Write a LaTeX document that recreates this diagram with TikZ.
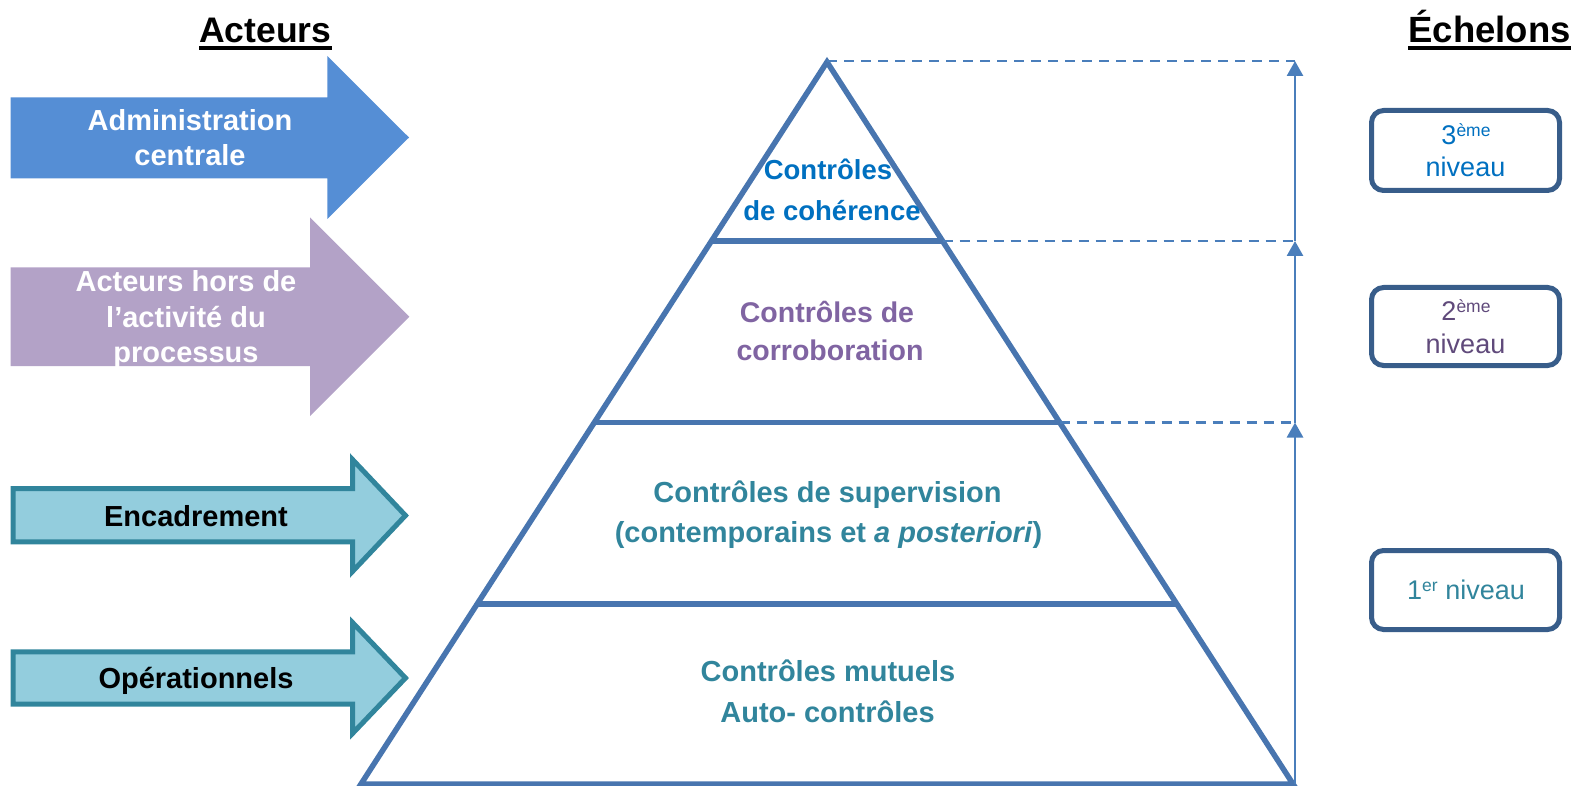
\documentclass[tikz,border=0pt]{standalone}
\usepackage{fontspec}
\setmainfont{Liberation Sans}
\usetikzlibrary{arrows.meta}

\definecolor{admblue}{RGB}{85,142,213}
\definecolor{hpurple}{RGB}{179,162,199}
\definecolor{tealfill}{RGB}{147,205,221}
\definecolor{tealline}{RGB}{49,133,156}
\definecolor{pyrline}{RGB}{72,117,175}
\definecolor{guideblue}{RGB}{74,126,187}
\definecolor{boxline}{RGB}{56,93,138}
\definecolor{txtblue}{RGB}{0,112,192}
\definecolor{txtpurple}{RGB}{128,100,162}
\definecolor{darkpurple}{RGB}{96,74,123}

% small raised ordinal suffix
\newcommand\ordsup[1]{\raisebox{8pt}{\fontsize{17.5}{17.5}\selectfont #1}}

\begin{document}
\begin{tikzpicture}[x=1pt,y=-1pt,
  title/.style={inner sep=0pt,anchor=base,font=\fontsize{35.5}{40}\selectfont\bfseries},
  arrtext/.style={inner sep=0pt,anchor=base,font=\fontsize{29}{34}\selectfont\bfseries},
  pyrtext/.style={inner sep=0pt,anchor=base,font=\fontsize{29}{34}\selectfont\bfseries},
  lvltext/.style={inner sep=0pt,anchor=base,font=\fontsize{27}{32}\selectfont},
  pyr/.style={draw=pyrline,line width=5.5pt,line join=miter},
  guide/.style={draw=guideblue,line width=2.7pt,dash pattern=on 10pt off 7pt},
  uparrow/.style={draw=guideblue,line width=2.7pt,-{Triangle[length=15pt,width=16pt]}},
  lvlbox/.style={draw=boxline,line width=5pt,rounded corners=12pt,fill=white,
    minimum width=188pt,inner sep=0pt},
  tealarrow/.style={fill=tealfill,draw=tealline,line width=5pt,line join=miter}
]
\useasboundingbox (0,0) rectangle (1574,786);

% ---- headings ----
\node[title,anchor=base west] (hact) at (199,42.5) {Acteurs};
\draw[line width=4pt] ([yshift=-5.5pt]hact.base west) -- ([yshift=-5.5pt]hact.base east);
\node[title,anchor=base east,font=\fontsize{36.5}{40}\selectfont\bfseries] (hech) at (1571,42.5) {Échelons};
\draw[line width=4pt] ([yshift=-5.5pt]hech.base west) -- ([yshift=-5.5pt]hech.base east);

% ---- actor arrows ----
\fill[admblue] (10.7,97.3) -- (327.3,97.3) -- (327.3,56) -- (409,137.5)
  -- (327.3,219) -- (327.3,178.3) -- (10.7,178.3) -- cycle;
\node[arrtext,white] (adm1) at (190,131) {Administration};
\node[arrtext,white] (adm2) at (190,165.7) {centrale};

\fill[hpurple] (10.7,267.3) -- (310,267.3) -- (310,217.5) -- (409.3,316.7)
  -- (310,416) -- (310,366) -- (10.7,366) -- cycle;
\node[arrtext,white] (hors1) at (186,291.7) {Acteurs hors de};
\node[arrtext,white] (hors2) at (186,327.7) {l’activité du};
\node[arrtext,white] (hors3) at (186,362) {processus};

\path[tealarrow] (13.2,488.5) -- (352.5,488.5) -- (352.5,459.5) -- (405.5,515.5)
  -- (352.5,571.5) -- (352.5,541.8) -- (13.2,541.8) -- cycle;
\node[arrtext,black] (enc) at (196,526) {Encadrement};

\path[tealarrow] (13.2,651.8) -- (352.5,651.8) -- (352.5,622.5) -- (405.5,678)
  -- (352.5,733.5) -- (352.5,704.2) -- (13.2,704.2) -- cycle;
\node[arrtext,black] (ope) at (196,688.3) {Opérationnels};

% ---- pyramid ----
\coordinate (AP) at (827,62);
\coordinate (BL) at (361,784);
\coordinate (BR) at (1293,784);
\coordinate (La) at (477.2,604);   \coordinate (Ra) at (1176.8,604);
\coordinate (Lb) at (594.3,422.5); \coordinate (Rb) at (1059.7,422.5);
\coordinate (Lc) at (711.5,241);   \coordinate (Rc) at (942.5,241);
\draw[pyr] (BL) -- (AP) -- (BR) -- cycle;
\draw[pyr] (La) -- (Ra);
\draw[pyr] (Lb) -- (Rb);
\draw[pyr] (Lc) -- (Rc);

\node[pyrtext,txtblue,font=\fontsize{27.5}{32}\selectfont\bfseries] (coh1) at (828,180) {Contrôles};
\node[pyrtext,txtblue,font=\fontsize{27.5}{32}\selectfont\bfseries] (coh2) at (832,221) {de cohérence};
\node[pyrtext,txtpurple,font=\fontsize{28.5}{34}\selectfont\bfseries] (cor1) at (827,323) {Contrôles de};
\node[pyrtext,txtpurple,font=\fontsize{28.5}{34}\selectfont\bfseries] (cor2) at (830,360) {corroboration};
\node[pyrtext,tealline] (sup1) at (827.5,502) {Contrôles de supervision};
\node[pyrtext,tealline] (sup2) at (828.5,542) {(contemporains et \textit{a posteriori})};
\node[pyrtext,tealline] (mut1) at (828,681) {Contrôles mutuels};
\node[pyrtext,tealline] (mut2) at (827.5,722) {Auto- contrôles};

% ---- level guides ----
\coordinate (V0) at (1295,784);
\coordinate (V1) at (1295,422.5);
\coordinate (V2) at (1295,241);
\coordinate (V3) at (1295,61);
\draw[guide] (AP |- V3) -- (V3);
\draw[guide] (Rc) -- (V2);
\draw[guide] (Rb) -- (V1);
\draw[uparrow] (V0) -- (V1);
\draw[uparrow] (V1) -- (V2);
\draw[uparrow] (V2) -- (V3);

% ---- level boxes ----
\node[lvlbox,minimum height=80pt] (box3) at (1465.5,150.5) {};
\node[lvltext,txtblue] (n3a) at (1466,144.3) {3\ordsup{ème}};
\node[lvltext,txtblue] (n3b) at (1465.5,177) {niveau};

\node[lvlbox,minimum height=78pt] (box2) at (1465.5,326.5) {};
\node[lvltext,darkpurple] (n2a) at (1466,320) {2\ordsup{ème}};
\node[lvltext,darkpurple] (n2b) at (1465.5,353) {niveau};

\node[lvlbox,minimum height=79pt] (box1) at (1465.5,590) {};
\node[lvltext,tealline] (n1) at (1466,599) {1\ordsup{er} niveau};
\end{tikzpicture}
\end{document}
